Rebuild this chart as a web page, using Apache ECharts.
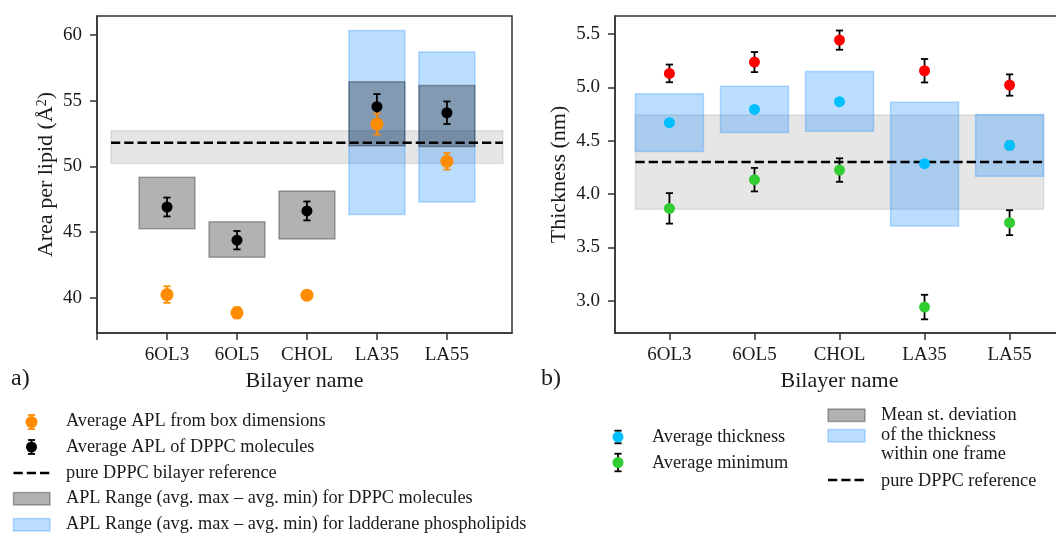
<!DOCTYPE html>
<html><head><meta charset="utf-8">
<script src="https://cdn.jsdelivr.net/npm/echarts@6.0.0/dist/echarts.min.js"></script>
<style>html,body{margin:0;padding:0;background:#fff}#c{width:1056px;height:536px}</style>
</head><body><div id="c"></div>
<script>
// ---------- data ----------
const categories = ['6OL3', '6OL5', 'CHOL', 'LA35', 'LA55'];
// panel a) area per lipid
const aplBox = [40.23, 38.84, 40.18, 53.22, 50.38];
const aplBoxErr = [0.63, 0.42, 0.2, 0.8, 0.63];
const aplDPPC = [46.9, 44.37, 46.6, 54.54, 54.08];
const aplDPPCErr = [0.72, 0.7, 0.72, 0.96, 0.86];
const aplRangeDPPCLow = [45.25, 43.07, 44.47, 51.57, 51.5];
const aplRangeDPPCHigh = [49.16, 45.78, 48.12, 56.44, 56.16];
const aplRangeLadLow = [null, null, null, 46.32, 47.28];
const aplRangeLadHigh = [null, null, null, 60.35, 58.7];
const aplRef = 51.8;
const aplRefBand = [50.22, 52.71];
const aplRefSpan = [-0.8, 4.8];
const aplTicks = [40, 45, 50, 55, 60];
// panel b) thickness
const thickMax = [5.131, 5.237, 5.443, 5.156, 5.022];
const thickMaxErr = [0.083, 0.094, 0.09, 0.11, 0.1];
const thickAvg = [4.669, 4.793, 4.866, 4.285, 4.456];
const thickAvgErr = [0.012, 0.02, 0.012, 0.012, 0.035];
const thickMin = [3.866, 4.135, 4.225, 2.941, 3.732];
const thickMinErr = [0.143, 0.11, 0.11, 0.115, 0.117];
const thickSDLow = [4.40, 4.578, 4.59, 3.70, 4.166];
const thickSDHigh = [4.94, 5.01, 5.15, 4.86, 4.746];
const thickRef = 4.30;
const thickRefBand = [3.857, 4.74];
const thickRefSpan = [-0.4, 4.4];
const thickTicks = [3.0, 3.5, 4.0, 4.5, 5.0, 5.5];

// ---------- styling ----------
const FONT = '"Liberation Serif","Times New Roman",serif';
const TXT = '#1a1a1a';
const AX = '#333333';
const HALF = 0.4;
const C_ORANGE = '#ff8c00', C_RED = '#ff0000', C_BLUE = '#00bfff', C_GREEN = '#32cd32';
const GRAY_FILL = 'rgba(0,0,0,0.3)', GRAY_EDGE = 'rgba(0,0,0,0.3)';
const BLUE_FILL = 'rgba(30,144,255,0.3)', BLUE_EDGE = 'rgba(30,144,255,0.3)';
const BAND_FILL = 'rgba(128,128,128,0.2)', BAND_EDGE = 'rgba(128,128,128,0.2)';
const DASH = [9.25, 4];

const chart = echarts.init(document.getElementById('c'), null, {renderer: 'canvas'});

function boxSeries(name, g, lows, highs, fill, stroke, z) {
  const data = [];
  lows.forEach((lo, i) => { if (lo != null) data.push([i, lo, highs[i]]); });
  return {
    type: 'custom', name, xAxisIndex: g, yAxisIndex: g, z, data, silent: true,
    encode: {x: 0, y: [1, 2]},
    renderItem: (p, api) => {
      const x = api.value(0);
      const a = api.coord([x - HALF, api.value(2)]);
      const b = api.coord([x + HALF, api.value(1)]);
      return {type: 'rect', shape: {x: a[0], y: a[1], width: b[0] - a[0], height: b[1] - a[1]},
        style: {fill, stroke, lineWidth: 1.5}};
    }
  };
}
function bandSeries(g, span, band, z) {
  return {
    type: 'custom', xAxisIndex: g, yAxisIndex: g, z, silent: true,
    data: [[span[0], span[1], band[0], band[1]]],
    encode: {x: [0, 1], y: [2, 3]},
    renderItem: (p, api) => {
      const a = api.coord([api.value(0), api.value(3)]);
      const b = api.coord([api.value(1), api.value(2)]);
      return {type: 'rect', shape: {x: a[0], y: a[1], width: b[0] - a[0], height: b[1] - a[1]},
        style: {fill: BAND_FILL, stroke: BAND_EDGE, lineWidth: 1.5}};
    }
  };
}
function refLine(g, span, v, z) {
  return {type: 'line', xAxisIndex: g, yAxisIndex: g, z, silent: true, symbol: 'none', animation: false,
    data: [[span[0], v], [span[1], v]],
    lineStyle: {color: '#000', width: 2.5, type: DASH}};
}
function errSeries(g, vals, errs, color, z) {
  return {
    type: 'custom', xAxisIndex: g, yAxisIndex: g, z, silent: true,
    data: vals.map((v, i) => [i, v, errs[i]]),
    encode: {x: 0, y: 1},
    renderItem: (p, api) => {
      const x = api.value(0), y = api.value(1), e = api.value(2);
      const t = api.coord([x, y + e]), b = api.coord([x, y - e]);
      const cx = t[0], cw = 3.6;
      const st = {stroke: color, lineWidth: 1.8};
      return {type: 'group', children: [
        {type: 'line', shape: {x1: cx, y1: t[1], x2: cx, y2: b[1]}, style: st},
        {type: 'line', shape: {x1: cx - cw, y1: t[1], x2: cx + cw, y2: t[1]}, style: st},
        {type: 'line', shape: {x1: cx - cw, y1: b[1], x2: cx + cw, y2: b[1]}, style: st}
      ]};
    }
  };
}
function pts(name, g, vals, color, size, z) {
  return {type: 'scatter', name, xAxisIndex: g, yAxisIndex: g, z, silent: true,
    data: vals.map((v, i) => [i, v]), symbolSize: size, itemStyle: {color, opacity: 1}};
}

const tickFont = {fontFamily: FONT, fontSize: 19, color: TXT};
const nameFont = {fontFamily: FONT, fontSize: 22, color: TXT};

function xAxis(g, min, max, tickVals, gap) {
  return {type: 'value', gridIndex: g, min, max,
    axisLine: {show: true, onZero: false, lineStyle: {color: AX, width: 1.5}},
    axisTick: {show: true, customValues: tickVals, length: 7, lineStyle: {color: AX, width: 1.5}},
    axisLabel: Object.assign({customValues: [0, 1, 2, 3, 4], formatter: v => categories[Math.round(v)] || '', margin: 13}, tickFont),
    splitLine: {show: false},
    name: 'Bilayer name', nameLocation: 'middle', nameGap: gap, nameTextStyle: nameFont};
}
function yAxis(g, min, max, ticks, fmt, name, gap) {
  return {type: 'value', gridIndex: g, min, max,
    axisLine: {show: true, onZero: false, lineStyle: {color: AX, width: 1.5}},
    axisTick: {show: true, customValues: ticks, length: 7, lineStyle: {color: AX, width: 1.5}},
    axisLabel: Object.assign({customValues: ticks, formatter: fmt, margin: 15}, tickFont),
    splitLine: {show: false},
    name, nameLocation: 'middle', nameGap: gap,
    nameTextStyle: Object.assign({rich: {sup: {fontFamily: FONT, fontSize: 14, color: TXT, verticalAlign: 'top', padding: [0, 0, 8, 0]}}}, nameFont)};
}

// ---------- legend graphics ----------
function errIcon(cx, cy, half, barColor, dotColor, r) {
  const st = {stroke: barColor, lineWidth: 1.8};
  return [
    {type: 'line', shape: {x1: cx, y1: cy - half, x2: cx, y2: cy + half}, style: st},
    {type: 'line', shape: {x1: cx - 3.6, y1: cy - half, x2: cx + 3.6, y2: cy - half}, style: st},
    {type: 'line', shape: {x1: cx - 3.6, y1: cy + half, x2: cx + 3.6, y2: cy + half}, style: st},
    {type: 'circle', shape: {cx, cy, r}, style: {fill: dotColor}}
  ];
}
function rectIcon(x, y, w, h, fill, stroke) {
  return {type: 'rect', shape: {x, y, width: w, height: h}, style: {fill, stroke, lineWidth: 1.5}};
}
function dashIcon(x, y, w) {
  return {type: 'line', shape: {x1: x, y1: y, x2: x + w, y2: y}, style: {stroke: '#000', lineWidth: 2.5, lineDash: DASH}};
}
function label(text, x, y, size) {
  return {type: 'text', x, y, style: {text, fontFamily: FONT, fontSize: size || 18.3, fill: TXT, verticalAlign: 'middle', align: 'left'}};
}
const legendA = ['Average APL from box dimensions', 'Average APL of DPPC molecules', 'pure DPPC bilayer reference',
  'APL Range (avg. max \u2013 avg. min) for DPPC molecules', 'APL Range (avg. max \u2013 avg. min) for ladderane phospholipids'];
const legendB1 = ['Average thickness', 'Average minimum'];
const legendB2 = ['Mean st. deviation', 'of the thickness', 'within one frame', 'pure DPPC reference'];

const graphics = [].concat(
  errIcon(31.5, 422, 7, C_ORANGE, C_ORANGE, 6),
  errIcon(31.5, 447, 7, '#000', '#000', 5.5),
  [dashIcon(13.5, 473, 36.5),
   rectIcon(13.5, 492.5, 36.5, 12.5, GRAY_FILL, GRAY_EDGE),
   rectIcon(13.5, 518.5, 36.5, 12.5, BLUE_FILL, BLUE_EDGE)],
  legendA.map((t, i) => label(t, 66, [421.5, 447, 473, 498.5, 524.5][i])),
  errIcon(618, 437, 6.3, '#000', C_BLUE, 5.5),
  errIcon(618, 462.5, 8.8, '#000', C_GREEN, 5.5),
  legendB1.map((t, i) => label(t, 652, [437, 463][i])),
  [rectIcon(828, 409, 37, 12.5, GRAY_FILL, GRAY_EDGE),
   rectIcon(828, 429.5, 37, 12.5, BLUE_FILL, BLUE_EDGE),
   dashIcon(828, 480, 37)],
  legendB2.map((t, i) => label(t, 881, [415, 435, 454, 481.5][i])),
  [label('a)', 11, 379, 24), label('b)', 541, 379, 24)]
);

const option = {
  animation: false,
  backgroundColor: '#fff',
  grid: [
    {left: 97, top: 16, width: 415, height: 317, show: true, borderColor: AX, borderWidth: 1.5, backgroundColor: 'transparent', outerBoundsMode: 'none', containLabel: false},
    {left: 615, top: 16, width: 449, height: 317, show: true, borderColor: AX, borderWidth: 1.5, backgroundColor: 'transparent', outerBoundsMode: 'none', containLabel: false}
  ],
  xAxis: [
    xAxis(0, -1, 4.93, [-1, 0, 1, 2, 3, 4], 36),
    xAxis(1, -0.64, 4.64, [0, 1, 2, 3, 4], 36)
  ],
  yAxis: [
    yAxis(0, 37.3, 61.45, aplTicks, v => String(v), 'Area per lipid (\u00c5{sup|2})', 40),
    yAxis(1, 2.698, 5.669, thickTicks, v => v.toFixed(1), 'Thickness (nm)', 45)
  ],
  series: [
    bandSeries(0, aplRefSpan, aplRefBand, 1),
    boxSeries('APL Range ladderane', 0, aplRangeLadLow, aplRangeLadHigh, BLUE_FILL, BLUE_EDGE, 2),
    boxSeries('APL Range DPPC', 0, aplRangeDPPCLow, aplRangeDPPCHigh, GRAY_FILL, GRAY_EDGE, 3),
    refLine(0, aplRefSpan, aplRef, 4),
    errSeries(0, aplDPPC, aplDPPCErr, '#000', 5),
    pts('Average APL of DPPC molecules', 0, aplDPPC, '#000', 11, 6),
    errSeries(0, aplBox, aplBoxErr, C_ORANGE, 7),
    pts('Average APL from box dimensions', 0, aplBox, C_ORANGE, 13, 8),

    bandSeries(1, thickRefSpan, thickRefBand, 1),
    boxSeries('Mean st. deviation', 1, thickSDLow, thickSDHigh, BLUE_FILL, BLUE_EDGE, 2),
    refLine(1, thickRefSpan, thickRef, 4),
    errSeries(1, thickMax, thickMaxErr, '#000', 5),
    pts('Average maximum', 1, thickMax, C_RED, 11, 6),
    errSeries(1, thickAvg, thickAvgErr, '#000', 5),
    pts('Average thickness', 1, thickAvg, C_BLUE, 11, 6),
    errSeries(1, thickMin, thickMinErr, '#000', 5),
    pts('Average minimum', 1, thickMin, C_GREEN, 11, 6)
  ],
  graphic: {elements: graphics}
};
chart.setOption(option);
</script></body></html>
